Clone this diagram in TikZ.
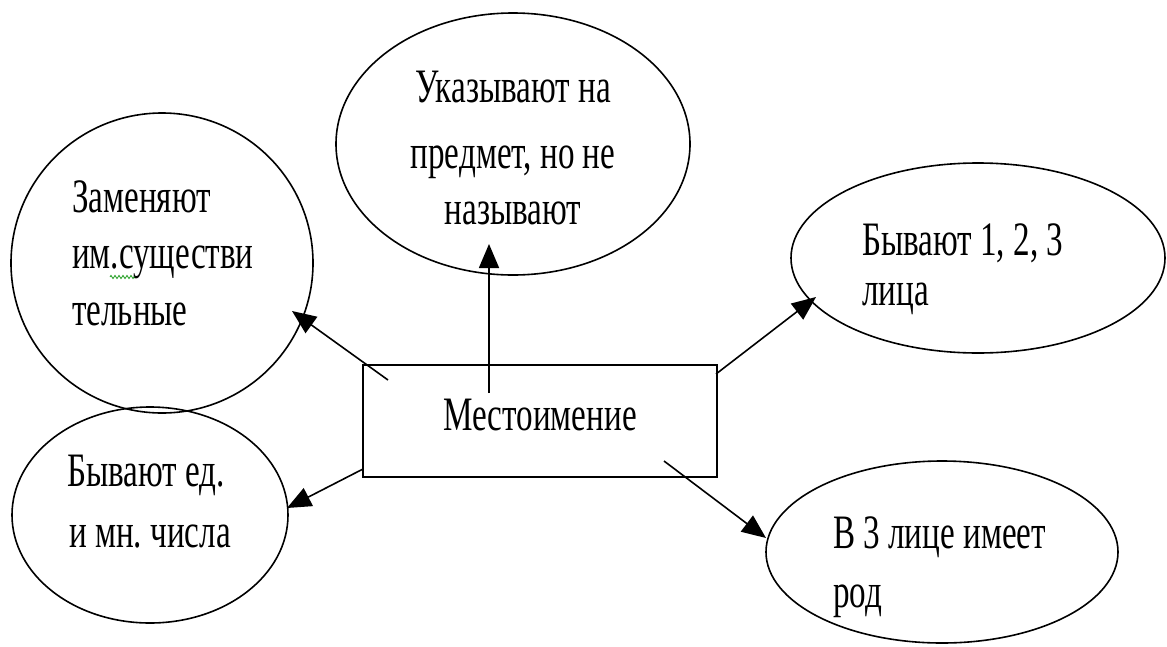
\documentclass[tikz,border=0pt]{standalone}
\usepackage{fontspec}
\setmainfont[FakeStretch=0.69]{Liberation Serif}
\usetikzlibrary{shapes.geometric,arrows.meta,decorations.pathmorphing}
\definecolor{squig}{RGB}{40,160,40}
\frenchspacing
\tikzset{
  bub/.style={draw=black, line width=1.6pt, ellipse, inner sep=0pt},
  box/.style={draw=black, line width=1.6pt, rectangle, inner sep=0pt},
  txt/.style={anchor=base west, inner sep=0pt, font=\fontsize{48}{48}\selectfont},
  ctxt/.style={anchor=base, inner sep=0pt, font=\fontsize{48}{48}\selectfont},
  arr/.style={line width=1.6pt, -{Triangle[length=24pt,width=20pt]}}
}
\begin{document}
\begin{tikzpicture}[x=1pt,y=-1pt]
\useasboundingbox (0,0) rectangle (1167,646);
% shapes
\node[box, minimum width=354pt, minimum height=112pt] (m) at (540,421) {};
\node[bub, minimum width=354pt, minimum height=262pt] (top) at (513,144) {};
\node[bub, minimum width=302pt, minimum height=300pt] (lt) at (162,263) {};
\node[bub, minimum width=276pt, minimum height=216pt] (lb) at (150,515) {};
\node[bub, minimum width=374pt, minimum height=190pt] (rt) at (978,258) {};
\node[bub, minimum width=352pt, minimum height=182pt] (rb) at (942,552) {};
% texts
\node[ctxt] (mt) at (540,430) {Местоимение};
\node[ctxt] (top1) at (513,102) {Указывают на};
\node[ctxt] (top2) at (513,168) {предмет, но не};
\node[ctxt] (top3) at (513,224) {называют};
\node[txt] (lt1) at (72,212) {Заменяют};
\node[txt] (lt2) at (72,268) {им.существи};
\node[txt] (lt3) at (72,325) {тельные};
\node[txt] (lb1) at (67,486) {Бывают ед.};
\node[txt] (lb2) at (69,547) {и мн. числа};
\node[txt] (rt1) at (862,255) {Бывают 1, 2, 3};
\node[txt] (rt2) at (862,305) {лица};
\node[txt] (rb1) at (833,548) {В 3 лице имеет};
\node[txt] (rb2) at (833,607) {род};
% spell-check squiggle
\coordinate (sq1) at (110,277);
\coordinate (sq2) at (135,277);
\draw[squig, line width=0.8pt, decorate, decoration={zigzag, segment length=4pt, amplitude=1.6pt}] (sq1) -- (sq2);
% connector ends
\coordinate (s1) at (489,393); \coordinate (e1) at (489,244);
\coordinate (s2) at (388,380); \coordinate (e2) at (292,311);
\coordinate (s3) at (363,469); \coordinate (e3) at (287,508);
\coordinate (s4) at (716,374); \coordinate (e4) at (816,297);
\coordinate (s5) at (664,461); \coordinate (e5) at (766,538);
\draw[arr] (s1) -- (e1);
\draw[arr] (s2) -- (e2);
\draw[arr] (s3) -- (e3);
\draw[arr] (s4) -- (e4);
\draw[arr] (s5) -- (e5);
\end{tikzpicture}
\end{document}
